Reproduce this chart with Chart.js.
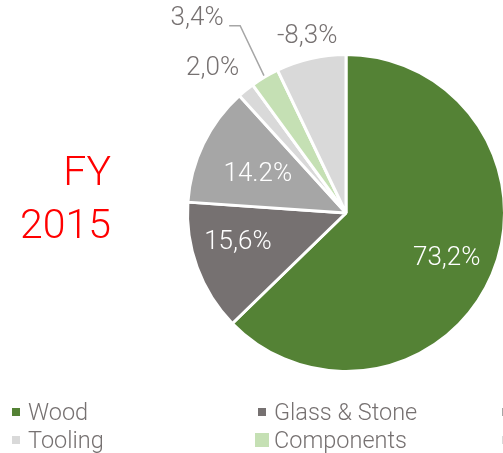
<!DOCTYPE html>
<html>
<head>
<meta charset="utf-8">
<script src="https://cdn.jsdelivr.net/npm/chart.js@4.4.1/dist/chart.umd.min.js"></script>
<style>
  html, body { margin: 0; padding: 0; width: 503px; height: 453px; overflow: hidden; background: #fff; }
  #wrap { position: relative; width: 503px; height: 453px; overflow: hidden; }
  #pie { position: absolute; left: 0; top: 0; }
  #fy {
    position: absolute; left: 0; top: 145px; width: 111px; text-align: right;
    font-family: Roboto, sans-serif; font-weight: 300; font-size: 41px; line-height: 53px; color: #ff0000;
  }
  #legend { position: absolute; left: 12px; top: 398px; width: 800px; }
  .item {
    position: absolute; width: 245px; height: 28px; white-space: nowrap;
    font-family: Roboto, sans-serif; font-weight: 300; font-size: 23.5px; line-height: 28px; color: #767171;
  }
  .box { display: inline-block; vertical-align: middle; margin-right: 8px; position: relative; top: -2px; }
</style>
</head>
<body>
<div id="wrap">
  <canvas id="pie" width="520" height="453"></canvas>
  <div id="fy">FY<br>2015</div>
  <div id="legend"></div>
</div>
<script>
var categories = ["Wood", "Glass & Stone", "Machinery", "Tooling", "Components", "Other"];
var values = [73.2, 15.6, 14.2, 2.0, 3.4, -8.3];
var valueLabels = ["73,2%", "15,6%", "14.2%", "2,0%", "3,4%", "-8,3%"];
var colors = ["#548235", "#767171", "#a6a6a6", "#d9d9d9", "#c5e0b4", "#d9d9d9"];

// label placement: radius factor, angle shift (deg), inside?
var place = [
  { f: 0.69, da: 1.3, inside: true },
  { f: 0.70, da: 5, inside: true },
  { f: 0.60, da: -2.5, inside: true },
  { f: 1.23, da: -3.5, inside: false },
  { f: 1.53, da: -6.6, inside: false, leader: true },
  { f: 1.13, da: 0.4, inside: false }
];

var labelPlugin = {
  id: "sliceLabels",
  afterDatasetsDraw: function (chart) {
    var ctx = chart.ctx;
    var meta = chart.getDatasetMeta(0);
    ctx.save();
    ctx.font = "300 26px Roboto, sans-serif";
    ctx.textAlign = "center";
    ctx.textBaseline = "middle";
    meta.data.forEach(function (arc, i) {
      var p = place[i];
      var mid = (arc.startAngle + arc.endAngle) / 2;
      var a = mid + p.da * Math.PI / 180;
      var r = arc.outerRadius + 1.5;
      var x = arc.x + Math.cos(a) * r * p.f;
      var y = arc.y + Math.sin(a) * r * p.f;
      if (p.leader) {
        var ex = arc.x + Math.cos(mid) * r;
        var ey = arc.y + Math.sin(mid) * r;
        ctx.strokeStyle = "#a6a6a6";
        ctx.lineWidth = 1.5;
        ctx.beginPath();
        ctx.moveTo(ex, ey);
        ctx.lineTo(x + 43, y + 7);
        ctx.lineTo(x + 32, y + 7);
        ctx.stroke();
      }
      ctx.fillStyle = p.inside ? "#ffffff" : "#767171";
      ctx.fillText(valueLabels[i], x, y);
    });
    ctx.restore();
  }
};

new Chart(document.getElementById("pie").getContext("2d"), {
  type: "pie",
  data: {
    labels: categories,
    datasets: [{
      data: values.map(function (v) { return Math.abs(v); }),
      backgroundColor: colors,
      borderColor: "#ffffff",
      borderWidth: 3
    }]
  },
  options: {
    responsive: false,
    animation: false,
    layout: { padding: { left: 186, top: 53, right: 14, bottom: 80 } },
    plugins: {
      legend: { display: false },
      tooltip: { enabled: false }
    }
  },
  plugins: [labelPlugin]
});

// legend in three columns, two rows
var legend = document.getElementById("legend");
var order = [0, 1, 2, 3, 4, 5];
order.forEach(function (idx, k) {
  var col = k % 3, row = Math.floor(k / 3);
  var size = idx === 4 ? 14 : 8;
  var gap = idx === 4 ? 5 : 8;
  var d = document.createElement("div");
  d.className = "item";
  d.style.left = (col * 245 + (col === 1 ? 1 : 0) - (idx === 4 ? 3 : 0)) + "px";
  d.style.top = (row * 28) + "px";
  d.innerHTML = '<span class="box" style="width:' + size + 'px;height:' + size + 'px;margin-right:' + gap + 'px;background:' + colors[idx] + '"></span>' + categories[idx];
  legend.appendChild(d);
});
</script>
</body>
</html>
